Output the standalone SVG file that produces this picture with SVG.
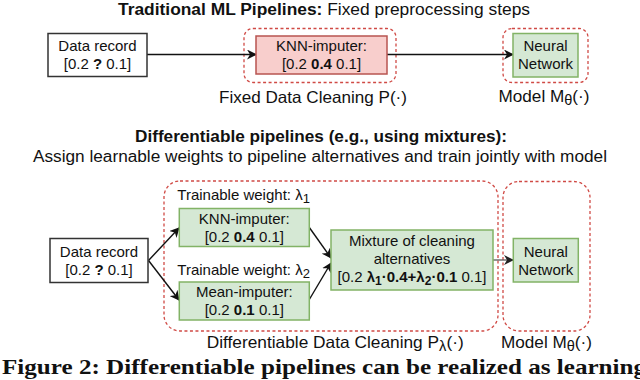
<svg xmlns="http://www.w3.org/2000/svg" width="640" height="380" viewBox="0 0 640 380">
<defs>
<marker id="arr" viewBox="0 0 10 10" refX="9" refY="5" markerWidth="10" markerHeight="10" markerUnits="userSpaceOnUse" orient="auto">
<path d="M0,0 L10,5 L0,10 L3,5 Z" fill="#111"/>
</marker>
<marker id="arrg" viewBox="0 0 10 10" refX="9" refY="5" markerWidth="10" markerHeight="10" markerUnits="userSpaceOnUse" orient="auto">
<path d="M0,0 L10,5 L0,10 L3,5 Z" fill="#222"/>
</marker>
</defs>
<style>
text{font-family:"Liberation Sans",Arial,sans-serif;fill:#111}
.t{font-size:15px;text-anchor:middle}
.lab{font-size:16.5px}
.h{font-size:16px}
.b{font-weight:bold}
.dash{fill:none;stroke:#d04a45;stroke-width:1.3;stroke-dasharray:3,2.5}
.plain{fill:#fff;stroke:#333;stroke-width:1.5}
.red{fill:#f8cecc;stroke:#b85450;stroke-width:1.5}
.green{fill:#d5e8d4;stroke:#82b366;stroke-width:1.5}
.edge{fill:none;stroke:#111;stroke-width:1.4;marker-end:url(#arr)}
.cap{font-family:"Liberation Serif","Times New Roman",serif;font-weight:bold;font-size:22px}
</style>
<rect width="640" height="380" fill="#fff"/>

<!-- headings -->
<text class="h" x="118" y="14.5" textLength="412" lengthAdjust="spacingAndGlyphs"><tspan class="b">Traditional ML Pipelines:</tspan> Fixed preprocessing steps</text>
<text class="h b" x="135" y="142.3" textLength="372" lengthAdjust="spacingAndGlyphs">Differentiable pipelines (e.g., using mixtures):</text>
<text class="h" x="33" y="162.3" textLength="574" lengthAdjust="spacingAndGlyphs">Assign learnable weights to pipeline alternatives and train jointly with model</text>

<!-- group containers -->
<g id="fixed-cleaning">
<rect class="dash" x="244" y="28.5" width="152" height="54" rx="9"/>
<text class="lab" x="219" y="103" textLength="188" lengthAdjust="spacingAndGlyphs">Fixed Data Cleaning P(·)</text>
</g>
<g id="model-top">
<rect class="dash" x="503" y="28.5" width="85" height="54" rx="9"/>
<text class="lab" x="498.5" y="102" textLength="91" lengthAdjust="spacingAndGlyphs">Model M<tspan font-size="14" dy="3">θ</tspan><tspan dy="-3">(·)</tspan></text>
</g>
<g id="diff-cleaning">
<rect class="dash" x="164" y="181" width="334" height="150" rx="16"/>
<text class="lab" x="206.7" y="347.7" textLength="257" lengthAdjust="spacingAndGlyphs">Differentiable Data Cleaning P<tspan font-size="14" dy="3">λ</tspan><tspan dy="-3">(·)</tspan></text>
</g>
<g id="model-bottom">
<rect class="dash" x="503" y="181.5" width="87" height="149.5" rx="16"/>
<text class="lab" x="501" y="348.3" textLength="91" lengthAdjust="spacingAndGlyphs">Model M<tspan font-size="14" dy="3">θ</tspan><tspan dy="-3">(·)</tspan></text>
</g>

<!-- connectors -->
<g id="connectors">
<line class="edge" x1="147" y1="54.5" x2="256" y2="54.5"/>
<line class="edge" x1="387" y1="54.5" x2="513" y2="54.5"/>
<line class="edge" x1="148.5" y1="260.5" x2="179" y2="228"/>
<line class="edge" x1="148.5" y1="260.5" x2="179" y2="300"/>
<line class="edge" x1="309" y1="227" x2="331" y2="258"/>
<line class="edge" x1="309" y1="300" x2="331" y2="263"/>
<line x1="493" y1="260" x2="513" y2="260" stroke="#666" stroke-width="1.4" marker-end="url(#arrg)"/>
</g>

<!-- top row nodes -->
<g id="data-record-top">
<rect class="plain" x="48" y="33.5" width="99" height="43"/>
<text class="t" x="97.5" y="51.4">Data record</text>
<text class="t" x="97.5" y="69.4">[0.2 <tspan class="b">?</tspan> 0.1]</text>
</g>
<g id="knn-fixed">
<rect class="red" x="256" y="36" width="131" height="38"/>
<text class="t" x="321.5" y="51.4">KNN-imputer:</text>
<text class="t" x="321.5" y="69.4">[0.2 <tspan class="b">0.4</tspan> 0.1]</text>
</g>
<g id="nn-top">
<rect class="green" x="513" y="33.5" width="65" height="43.5"/>
<text class="t" x="545.5" y="51.4">Neural</text>
<text class="t" x="545.5" y="69.4">Network</text>
</g>

<!-- bottom row nodes -->
<g id="data-record-bottom">
<rect class="plain" x="50" y="238.5" width="98" height="44"/>
<text class="t" x="99" y="256.6">Data record</text>
<text class="t" x="99" y="274.6">[0.2 <tspan class="b">?</tspan> 0.1]</text>
</g>
<g id="weight1">
<text font-size="15" x="177.3" y="200">Trainable weight: λ<tspan font-size="13" dy="2.5">1</tspan></text>
</g>
<g id="knn-imputer">
<rect class="green" x="179.3" y="208.5" width="130" height="38"/>
<text class="t" x="244.3" y="224.3">KNN-imputer:</text>
<text class="t" x="244.3" y="242">[0.2 <tspan class="b">0.4</tspan> 0.1]</text>
</g>
<g id="weight2">
<text font-size="15" x="177.3" y="275">Trainable weight: λ<tspan font-size="13" dy="2.5">2</tspan></text>
</g>
<g id="mean-imputer">
<rect class="green" x="179.3" y="282" width="130" height="38"/>
<text class="t" x="244.3" y="296.8">Mean-imputer:</text>
<text class="t" x="244.3" y="314.8">[0.2 <tspan class="b">0.1</tspan> 0.1]</text>
</g>
<g id="mixture">
<rect class="green" x="331" y="230" width="162" height="60"/>
<text class="t" x="412" y="246">Mixture of cleaning</text>
<text class="t" x="412" y="264.3">alternatives</text>
<text class="t" x="412" y="282.3" textLength="149" lengthAdjust="spacingAndGlyphs">[0.2 <tspan class="b">λ<tspan font-size="12" dy="2.5">1</tspan><tspan dy="-2.5">·0.4+λ</tspan><tspan font-size="12" dy="2.5">2</tspan><tspan dy="-2.5">·0.1</tspan></tspan> 0.1]</text>
</g>
<g id="nn-bottom">
<rect class="green" x="513.3" y="238.5" width="65" height="43.5"/>
<text class="t" x="545.8" y="256.6">Neural</text>
<text class="t" x="545.8" y="274.6">Network</text>
</g>

<!-- caption -->
<text class="cap" x="2" y="374.3" textLength="644" lengthAdjust="spacingAndGlyphs">Figure 2: Differentiable pipelines can be realized as learning</text>
</svg>
